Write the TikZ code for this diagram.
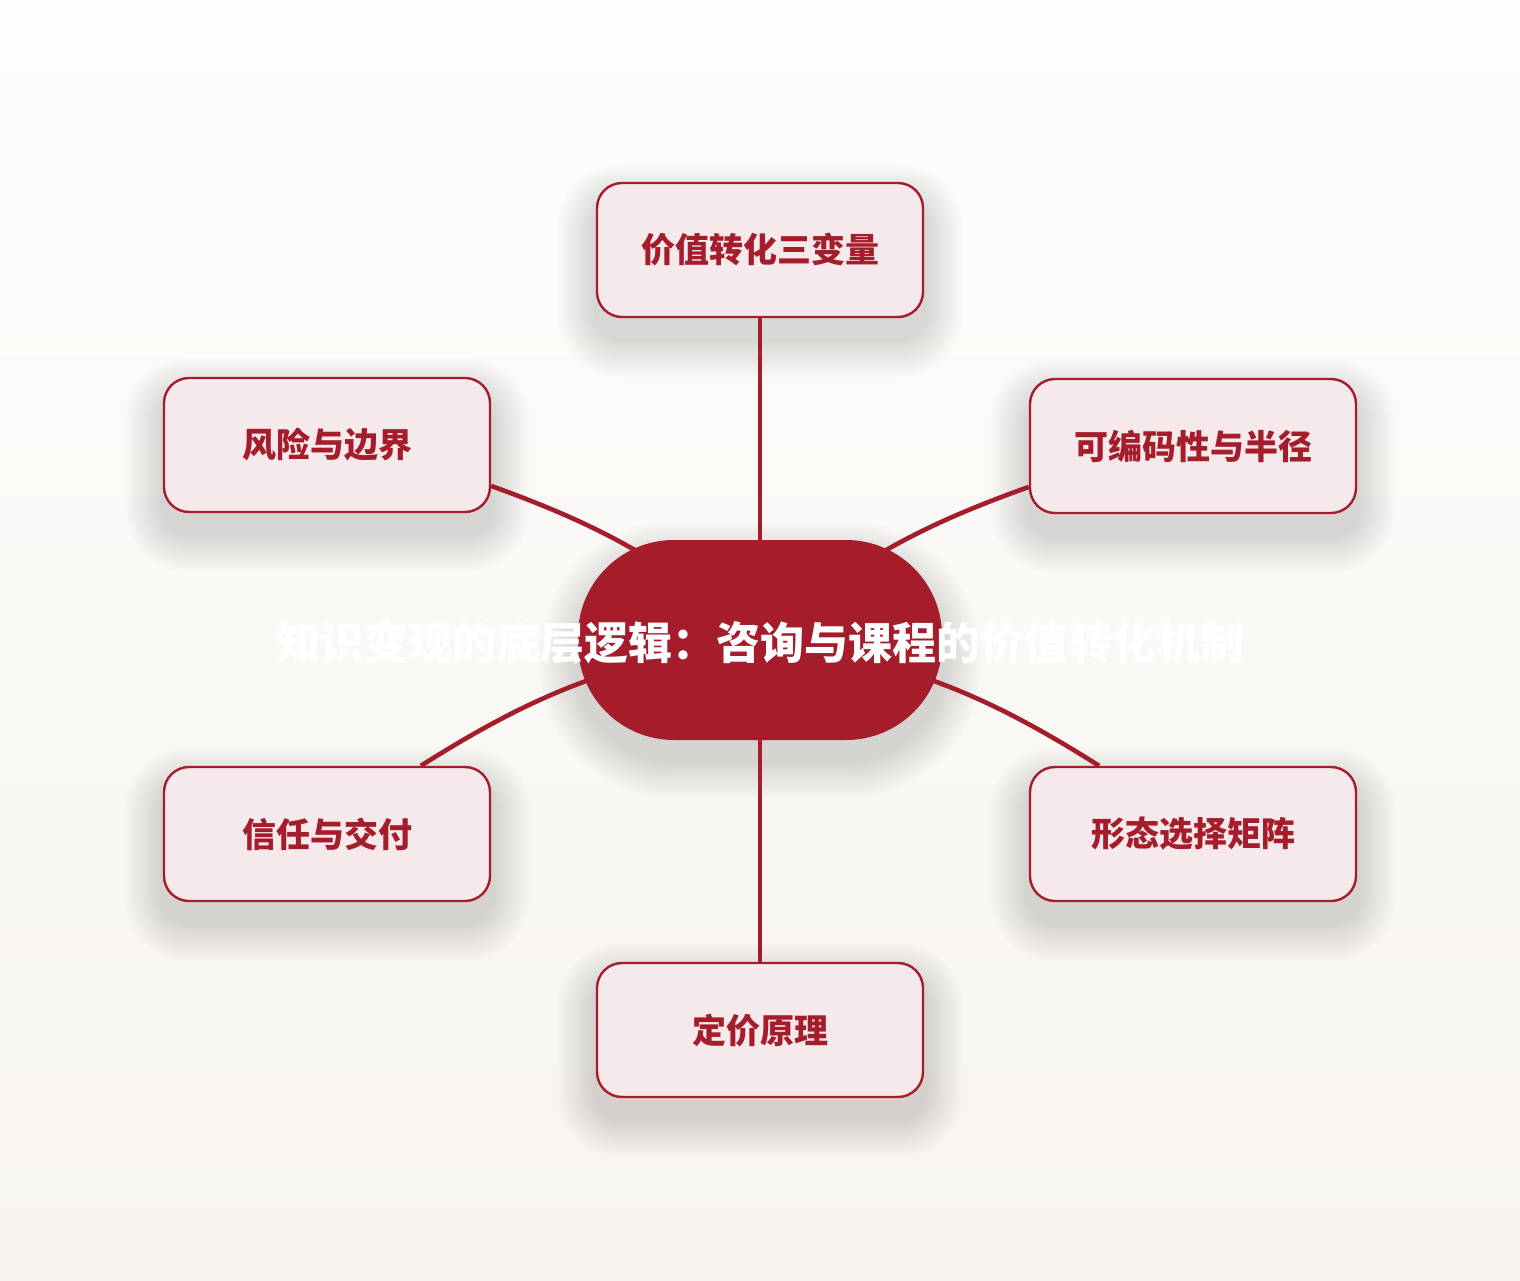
\documentclass[tikz,border=0pt]{standalone}
\usepackage{fontspec}
\setmainfont{Noto Sans CJK SC}

\definecolor{brickred}{HTML}{A51C2B}
\definecolor{blush}{HTML}{F5E9EC}
\definecolor{paper}{HTML}{FDFDFC}
\definecolor{sand}{HTML}{F7F4EF}

\pgfdeclarelayer{back}
\pgfdeclarelayer{links}
\pgfsetlayers{back,links,main}

%% soft shadow under a named node: #1 name, #2 corner radius
\newcommand{\softshade}[2]{%
    \foreach \k in {1,...,12}{%
        \fill[black, opacity=0.013, rounded corners=#2+\k*1.6pt]
            ([shift={(-\k*1.6pt,-10pt-\k*1.6pt)}]#1.south west) rectangle
            ([shift={(\k*1.6pt,-10pt+\k*1.6pt)}]#1.north east);
    }%
}

\begin{document}
\begin{tikzpicture}[x=0.5pt,y=-0.5pt,
        topic/.style={draw=brickred, line width=1.2pt, fill=blush, rounded corners=12.5pt,
            minimum width=163pt, minimum height=67pt, text=brickred,
            font=\bfseries\fontsize{17}{20}\selectfont},
        hub/.style={fill=brickred, rounded corners=48pt, minimum width=182pt, minimum height=100pt},
        link/.style={draw=brickred, line width=2.3pt}]

    \useasboundingbox (0,0) rectangle (1520,1280);

    %% hub
    \node[hub] (hub) at (760,640) {};
    \node[text=white, font=\bfseries\fontsize{22}{26}\selectfont] (title) at (760,643)
        {知识变现的底层逻辑：咨询与课程的价值转化机制};

    %% topics
    \node[topic] (value)  at (760,250)  {价值转化三变量};
    \node[topic] (risk)   at (327,445)  {风险与边界};
    \node[topic] (code)   at (1193,446) {可编码性与半径};
    \node[topic] (trust)  at (327,834)  {信任与交付};
    \node[topic] (form)   at (1193,834) {形态选择矩阵};
    \node[topic] (price)  at (760,1030) {定价原理};

    %% paper and shadows
    \begin{pgfonlayer}{back}
        \shade[top color=paper, bottom color=sand] (0,0) rectangle (1520,1280);
        \softshade{hub}{48pt}
        \foreach \n in {value,risk,code,trust,form,price}
            {\softshade{\n}{12.5pt}}
    \end{pgfonlayer}

    %% links
    \begin{pgfonlayer}{links}
        \draw[link] (hub.center) -- (value.south);
        \draw[link] (hub.center) to[bend right=10] (risk.-14);
        \draw[link] (hub.center) to[bend left=10]  (code.-166);
        \draw[link] (hub.center) to[bend right=12] (trust.36);
        \draw[link] (hub.center) to[bend left=12]  (form.144);
        \draw[link] (hub.center) -- (price.north);
    \end{pgfonlayer}

\end{tikzpicture}
\end{document}
